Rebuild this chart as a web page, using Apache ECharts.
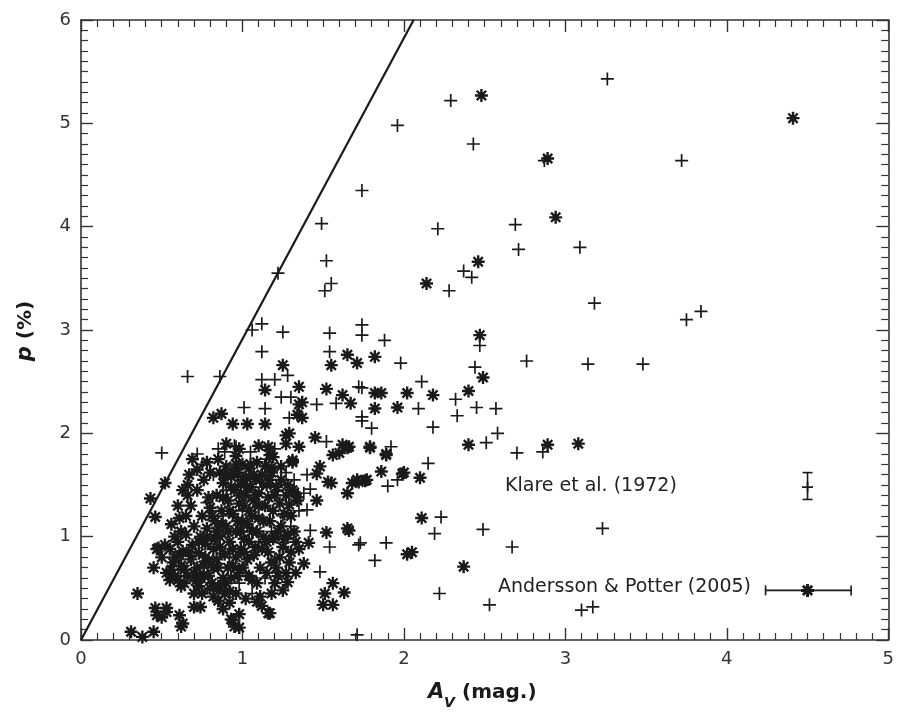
<!DOCTYPE html>
<html>
<head>
<meta charset="utf-8">
<script src="https://cdn.jsdelivr.net/npm/echarts@6/dist/echarts.min.js"></script>
<style>
  html, body { margin: 0; padding: 0; background: #fff; }
  #chart { width: 897px; height: 715px; }
</style>
</head>
<body>
<div id="chart"></div>
<script>
// axis ticks
const X_TICKS = [0, 1, 2, 3, 4, 5];
const Y_TICKS = [0, 1, 2, 3, 4, 5, 6];

// upper-limit line p = k * A_V
const LINE_AV = [0, 2.06];
const LINE_P = [0, 6];

// Klare et al. (1972), "+" markers  [A_V, p]
const KLARE = [
  [1.22, 3.55], [1.49, 4.03], [1.52, 3.67], [1.55, 3.45], [1.51, 3.38], [1.74, 4.35],
  [1.96, 4.98], [2.29, 5.22], [3.26, 5.43], [2.43, 4.80], [3.72, 4.64], [2.87, 4.64],
  [2.21, 3.98], [2.69, 4.02], [2.71, 3.78], [3.09, 3.80], [2.37, 3.57], [2.42, 3.51],
  [2.28, 3.38], [3.18, 3.26], [3.75, 3.10], [3.84, 3.18], [2.47, 2.85], [2.76, 2.70],
  [3.14, 2.67], [3.48, 2.67], [2.44, 2.64], [2.32, 2.33], [2.45, 2.25], [2.57, 2.24],
  [2.33, 2.17], [2.51, 1.91], [2.58, 2.00], [2.70, 1.81], [2.86, 1.82], [2.23, 1.19],
  [2.19, 1.03], [2.49, 1.07], [2.67, 0.90], [3.23, 1.08], [2.22, 0.45], [2.53, 0.34],
  [3.10, 0.29], [3.17, 0.32], [1.73, 0.94], [1.89, 0.94], [1.82, 0.77], [1.90, 1.49],
  [1.96, 1.55], [2.15, 1.71], [1.71, 0.05],
  [1.12, 3.06], [1.06, 3.00], [1.25, 2.98], [1.54, 2.97], [1.74, 3.05], [1.74, 2.95],
  [1.88, 2.90], [1.12, 2.79], [1.54, 2.79], [1.28, 2.56], [1.12, 2.52], [1.20, 2.52],
  [1.72, 2.45], [1.24, 2.35], [1.30, 2.35], [1.46, 2.28], [1.58, 2.29], [1.01, 2.25],
  [1.14, 2.24], [1.29, 2.15], [1.52, 1.92], [1.74, 2.16], [0.96, 1.87], [1.98, 2.68],
  [2.11, 2.50], [1.74, 2.44], [2.09, 2.24], [2.18, 2.06], [1.74, 2.12], [1.80, 2.05],
  [1.92, 1.87], [0.66, 2.55], [0.86, 2.55], [0.50, 1.81], [0.89, 1.82], [0.78, 1.33],
  [1.22, 1.45], [1.42, 1.46], [1.40, 1.26], [1.28, 1.23], [1.42, 1.06], [1.54, 0.90],
  [1.72, 0.92], [1.48, 0.66], [0.72, 1.80], [0.85, 1.85], [0.90, 1.45], [0.95, 1.88],
  [1.00, 1.25], [1.02, 0.65], [1.05, 1.82], [1.08, 1.28], [1.10, 0.95], [1.12, 1.48],
  [1.15, 1.75], [1.18, 1.05], [1.20, 1.85], [1.25, 1.20], [1.27, 1.62], [1.30, 1.10],
  [1.32, 1.55], [1.35, 1.25], [1.38, 1.42], [0.98, 0.55], [0.88, 1.20], [0.82, 1.60],
  [1.06, 0.45], [1.14, 0.60], [0.92, 0.80], [1.40, 1.60], [1.20, 0.78], [0.75, 1.70]
];

// Andersson & Potter (2005), asterisk markers  [A_V, p]
const AP = [
  [2.48, 5.27], [4.41, 5.05], [2.89, 4.66], [2.94, 4.09], [2.14, 3.45], [2.46, 3.66],
  [2.47, 2.95], [2.49, 2.54], [2.40, 2.41], [2.40, 1.89], [2.89, 1.89], [3.08, 1.90],
  [2.37, 0.71], [2.05, 0.85], [2.02, 0.83], [2.11, 1.18], [2.10, 1.57], [1.99, 1.61],
  [1.86, 1.63], [1.76, 1.54], [2.18, 2.37], [2.02, 2.39], [1.96, 2.25], [1.82, 2.74],
  [1.65, 2.76], [1.71, 2.68], [1.55, 2.66], [1.25, 2.66], [1.82, 2.39], [1.86, 2.39],
  [1.82, 2.24], [1.79, 1.87], [1.89, 1.80], [1.35, 2.45], [1.52, 2.43], [1.62, 2.37],
  [1.14, 2.42], [1.35, 2.28], [1.67, 2.29], [0.94, 2.09], [1.03, 2.09], [1.14, 2.09],
  [1.37, 2.15], [1.45, 1.96], [1.27, 1.98], [1.35, 1.87], [1.60, 1.81], [1.66, 1.87],
  [1.16, 1.87], [1.19, 1.77], [1.31, 1.74], [0.82, 2.15], [0.87, 2.19], [0.52, 1.52],
  [0.66, 1.50], [0.66, 1.40], [0.43, 1.37], [0.46, 1.19], [0.61, 1.18], [0.35, 0.45],
  [0.48, 0.89], [0.45, 0.70], [0.53, 0.65], [0.46, 0.31], [0.53, 0.31], [0.50, 0.22],
  [0.31, 0.08], [0.38, 0.03], [0.45, 0.08], [0.61, 0.24], [0.62, 0.13], [0.70, 0.32],
  [1.32, 1.43], [1.46, 1.35], [1.55, 1.52], [1.65, 1.42], [1.71, 1.55], [1.52, 1.04],
  [1.41, 0.94], [1.65, 1.08], [1.38, 0.74], [1.28, 0.56], [1.25, 0.48], [1.51, 0.45],
  [1.56, 0.55], [1.63, 0.46], [1.50, 0.34], [1.56, 0.34], [1.09, 0.37], [1.16, 0.26],
  [0.95, 0.13], [1.66, 1.06], [1.53, 1.53], [1.46, 1.61], [1.48, 1.68], [1.56, 1.79],
  [1.62, 1.89], [1.65, 1.86], [1.77, 1.55], [1.72, 1.53], [1.68, 1.52], [1.89, 1.79],
  [1.79, 1.86], [2.00, 1.62], [1.31, 1.45], [1.34, 1.35], [1.29, 1.31], [1.31, 1.72],
  [1.27, 1.90], [1.17, 1.79], [1.18, 1.67], [1.37, 2.30], [1.34, 2.18], [1.29, 2.00],
  [0.55, 0.88], [0.58, 0.80], [0.60, 0.95], [0.62, 0.72], [0.63, 0.86], [0.65, 1.02],
  [0.66, 0.62], [0.68, 0.78], [0.69, 0.92], [0.70, 1.10], [0.71, 0.57], [0.72, 0.70],
  [0.73, 0.84], [0.74, 1.00], [0.75, 1.20], [0.76, 0.63], [0.77, 0.93], [0.78, 1.08],
  [0.79, 0.76], [0.80, 1.28], [0.80, 1.62], [0.81, 0.55], [0.82, 0.88], [0.83, 1.15],
  [0.84, 1.40], [0.85, 0.70], [0.85, 1.75], [0.86, 1.00], [0.87, 1.25], [0.88, 0.60],
  [0.88, 1.52], [0.89, 0.83], [0.90, 1.10], [0.90, 1.68], [0.91, 1.35], [0.92, 0.95],
  [0.92, 0.47], [0.93, 1.58], [0.94, 0.72], [0.94, 1.22], [0.95, 1.45], [0.96, 1.05],
  [0.96, 1.78], [0.97, 0.62], [0.97, 1.62], [0.98, 1.32], [0.99, 0.88], [0.99, 1.50],
  [1.00, 1.15], [1.00, 1.70], [1.01, 0.98], [1.02, 1.40], [1.02, 1.58], [1.03, 0.78],
  [1.04, 1.25], [1.04, 1.66], [1.05, 1.48], [1.06, 1.05], [1.06, 0.58], [1.07, 1.35],
  [1.08, 1.56], [1.08, 0.90], [1.09, 1.72], [1.10, 1.18], [1.10, 1.42], [1.11, 0.70],
  [1.12, 1.60], [1.13, 1.00], [1.14, 1.30], [1.15, 1.50], [1.16, 0.85], [1.17, 1.15],
  [1.18, 1.62], [1.19, 0.98], [1.20, 1.40], [1.22, 0.62], [1.22, 1.05], [1.24, 1.55],
  [1.25, 0.90], [1.26, 1.22], [1.28, 1.02], [1.30, 0.85], [1.33, 0.95], [1.34, 1.38],
  [0.47, 0.88], [0.50, 0.80], [0.52, 0.92], [0.56, 0.68], [0.58, 0.62], [0.60, 0.58],
  [0.64, 0.55], [0.55, 0.58], [0.62, 0.52], [0.57, 0.75], [0.75, 0.45], [0.80, 0.50],
  [0.85, 0.38], [0.88, 0.30], [0.93, 0.20], [0.98, 0.25], [1.02, 0.40], [1.12, 0.33],
  [1.18, 0.45], [1.20, 0.55], [1.21, 0.70], [0.90, 0.55], [0.96, 0.45], [0.82, 0.42],
  [0.73, 0.52], [1.11, 0.42], [1.17, 0.26], [0.94, 0.19], [0.98, 0.12], [0.92, 0.36],
  [0.86, 0.51], [0.74, 0.32], [0.63, 0.16], [0.53, 0.27], [0.47, 0.24], [0.72, 1.65],
  [0.78, 1.72], [0.69, 1.75], [0.65, 1.20], [0.62, 1.05], [0.68, 1.30], [0.72, 1.45],
  [0.76, 1.55], [0.79, 1.38], [0.84, 1.05], [0.86, 1.62], [0.96, 1.70], [1.00, 0.70],
  [0.60, 1.30], [0.63, 1.45], [0.67, 1.60], [0.70, 0.45], [0.74, 0.60], [0.77, 0.80],
  [0.78, 1.00], [0.81, 1.20], [0.83, 0.98], [0.84, 0.78], [0.86, 0.90], [0.87, 1.12],
  [0.88, 1.38], [0.89, 1.60], [0.91, 0.70], [0.91, 1.05], [0.92, 1.25], [0.93, 1.48],
  [0.94, 0.88], [0.95, 1.62], [0.96, 0.80], [0.97, 1.15], [0.98, 1.40], [0.99, 1.05],
  [1.00, 1.55], [1.01, 0.85], [1.01, 1.30], [1.03, 1.12], [1.03, 1.48], [1.04, 0.95],
  [1.05, 1.70], [1.06, 1.20], [1.07, 0.82], [1.07, 1.60], [1.08, 1.40], [1.09, 1.05],
  [1.10, 1.30], [1.11, 1.55], [1.12, 0.88], [1.13, 1.15], [1.14, 1.68], [1.15, 0.95],
  [1.16, 1.38], [1.17, 1.55], [1.18, 0.75], [1.19, 1.25], [1.20, 1.00], [1.21, 1.48],
  [1.23, 0.80], [1.23, 1.32], [1.24, 1.10], [1.26, 0.98], [1.27, 1.40], [1.29, 0.75],
  [1.30, 1.20], [1.32, 1.05], [1.33, 0.65], [1.35, 0.88], [0.64, 0.68], [0.67, 0.85],
  [0.70, 0.65], [0.73, 0.95], [0.76, 0.72], [0.79, 0.62], [0.82, 0.70], [0.85, 0.52],
  [0.58, 1.00], [0.61, 0.82], [0.56, 1.12], [0.98, 0.68], [1.04, 0.62], [1.09, 0.55],
  [1.15, 0.65], [0.93, 0.60], [0.89, 0.45], [1.27, 0.65], [1.24, 1.68], [1.28, 1.50],
  [0.98, 1.85], [1.10, 1.88], [0.90, 1.90]
];

// reference error bars  [A_V, p, A_V lo, A_V hi, p lo, p hi]
const KLARE_ERR = [[4.5, 1.48, 4.5, 4.5, 1.36, 1.62]];
const AP_ERR = [[4.5, 0.48, 4.24, 4.77, 0.48, 0.48]];

const INK = '#1a1a1a';
const PLUS = 'path://M0,-6L0,6M-6,0L6,0';
const STAR = 'path://M0,-6L0,6M-6,0L6,0M-4.3,-4.3L4.3,4.3M-4.3,4.3L4.3,-4.3';

const chart = echarts.init(document.getElementById('chart'));

function axisX(pos, showLabel) {
  return {
    type: 'value', position: pos, min: X_TICKS[0], max: X_TICKS[X_TICKS.length - 1], interval: 1,
    axisLine: { onZero: false, lineStyle: { color: '#333', width: 1.6 } },
    axisTick: { inside: true, length: 12, lineStyle: { color: '#333', width: 1.4 } },
    minorTick: { show: true, splitNumber: 10, length: 7, lineStyle: { color: '#333', width: 1.2 } },
    splitLine: { show: false },
    axisLabel: { show: showLabel, color: '#333', fontSize: 18, fontFamily: 'DejaVu Sans', margin: 10 }
  };
}
function axisY(pos, showLabel) {
  return {
    type: 'value', position: pos, min: Y_TICKS[0], max: Y_TICKS[Y_TICKS.length - 1], interval: 1,
    axisLine: { onZero: false, lineStyle: { color: '#333', width: 1.6 } },
    axisTick: { inside: true, length: 12, lineStyle: { color: '#333', width: 1.4 } },
    minorTick: { show: true, splitNumber: 10, length: 7, lineStyle: { color: '#333', width: 1.2 } },
    splitLine: { show: false },
    axisLabel: { show: showLabel, color: '#333', fontSize: 18, fontFamily: 'DejaVu Sans', margin: 10 }
  };
}

function renderErr(params, api) {
  const x = api.value(0), y = api.value(1);
  const l = api.coord([api.value(2), y]), r = api.coord([api.value(3), y]);
  const b = api.coord([x, api.value(4)]), t = api.coord([x, api.value(5)]);
  const style = { stroke: INK, lineWidth: 1.6 };
  const kids = [];
  if (r[0] - l[0] > 1) {
    kids.push({ type: 'line', shape: { x1: l[0], y1: l[1], x2: r[0], y2: r[1] }, style });
    kids.push({ type: 'line', shape: { x1: l[0], y1: l[1] - 5, x2: l[0], y2: l[1] + 5 }, style });
    kids.push({ type: 'line', shape: { x1: r[0], y1: r[1] - 5, x2: r[0], y2: r[1] + 5 }, style });
  }
  if (b[1] - t[1] > 1) {
    kids.push({ type: 'line', shape: { x1: t[0], y1: t[1], x2: b[0], y2: b[1] }, style });
    kids.push({ type: 'line', shape: { x1: t[0] - 5, y1: t[1], x2: t[0] + 5, y2: t[1] }, style });
    kids.push({ type: 'line', shape: { x1: b[0] - 5, y1: b[1], x2: b[0] + 5, y2: b[1] }, style });
  }
  return { type: 'group', children: kids };
}

const option = {
  backgroundColor: '#fff',
  animation: false,
  grid: { left: 81, right: 7, top: 20, bottom: 75 },
  xAxis: [axisX('bottom', true), axisX('top', false)],
  yAxis: [axisY('left', true), axisY('right', false)],
  series: [
    {
      type: 'line', data: LINE_AV.map((v, i) => [v, LINE_P[i]]), symbol: 'none',
      lineStyle: { color: '#1a1a1a', width: 2.2 }, z: 3
    },
    {
      type: 'scatter', data: AP, symbol: STAR, symbolSize: 13,
      itemStyle: { color: INK, borderColor: INK, borderWidth: 2.4, opacity: 1 }
    },
    {
      type: 'scatter', data: KLARE, symbol: PLUS, symbolSize: 13,
      itemStyle: { color: INK, borderColor: INK, borderWidth: 1.7, opacity: 1 }
    },
    { type: 'custom', data: KLARE_ERR, renderItem: renderErr },
    { type: 'custom', data: AP_ERR, renderItem: renderErr },
    {
      type: 'scatter', data: KLARE_ERR.map(d => [d[0], d[1]]), symbol: PLUS, symbolSize: 11,
      itemStyle: { color: INK, borderColor: INK, borderWidth: 1.7, opacity: 1 }, z: 4
    },
    {
      type: 'scatter', data: AP_ERR.map(d => [d[0], d[1]]), symbol: STAR, symbolSize: 13,
      itemStyle: { color: INK, borderColor: INK, borderWidth: 3, opacity: 1 }, z: 4
    }
  ],
  graphic: [
    {
      type: 'text', left: 505, top: 477,
      style: { text: 'Klare et al. (1972)', fill: '#222', font: '19px "DejaVu Sans"' }
    },
    {
      type: 'text', left: 498, top: 578,
      style: { text: 'Andersson & Potter (2005)', fill: '#222', font: '19px "DejaVu Sans"' }
    },
    // x axis title: A_V (mag.)
    {
      type: 'text', left: 428, top: 682,
      style: { text: 'A', fill: '#1a1a1a', font: 'italic bold 21px "DejaVu Sans"' }
    },
    {
      type: 'text', left: 444, top: 696,
      style: { text: 'V', fill: '#1a1a1a', font: 'italic bold 14px "DejaVu Sans"' }
    },
    {
      type: 'text', left: 462, top: 683,
      style: { text: '(mag.)', fill: '#1a1a1a', font: 'bold 20px "DejaVu Sans"' }
    },
    // y axis title: p (%)
    {
      type: 'text', x: 26, y: 331, rotation: Math.PI / 2,
      style: {
        text: '{i|p} (%)', fill: '#1a1a1a', font: 'bold 20px "DejaVu Sans"',
        align: 'center', verticalAlign: 'middle',
        rich: { i: { fontStyle: 'italic', fontWeight: 'bold', fontSize: 21, fontFamily: 'DejaVu Sans', fill: '#1a1a1a' } }
      }
    }
  ]
};

chart.setOption(option);
</script>
</body>
</html>
